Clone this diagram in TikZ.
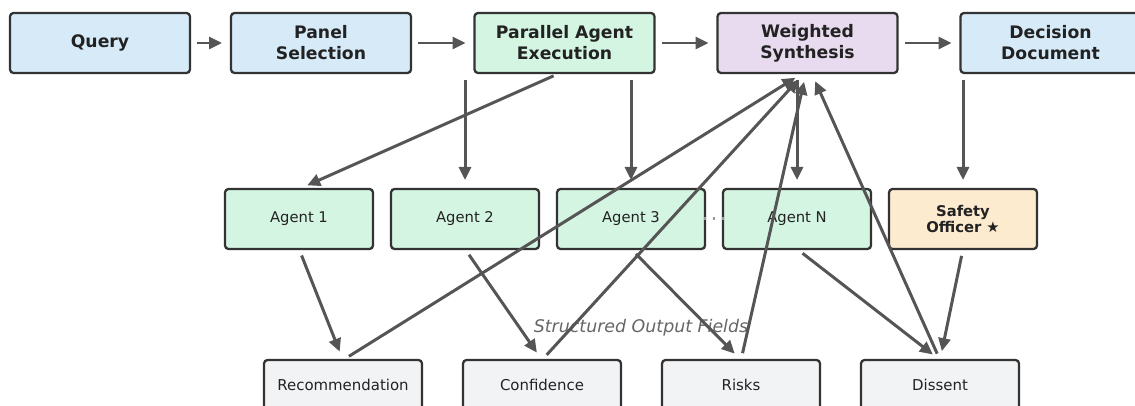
\documentclass[tikz,border=0pt]{standalone}
\usepackage{fontspec}
\setmainfont{DejaVu Sans}
\usepackage{tikz}
\usetikzlibrary{shapes,arrows,arrows.meta,positioning}
\definecolor{edgegray}{HTML}{333333}
\definecolor{arrowgray}{HTML}{555555}
\definecolor{textdark}{HTML}{222222}
\definecolor{labelgray}{HTML}{666666}
\definecolor{dotgray}{HTML}{999999}
\definecolor{stepblue}{HTML}{D6EAF8}
\definecolor{agentgreen}{HTML}{D5F5E3}
\definecolor{synthpurple}{HTML}{E8DAEF}
\definecolor{safetyorange}{HTML}{FDEBD0}
\definecolor{fieldgray}{HTML}{F2F3F4}
\tikzset{
    stagebox/.style = {rectangle, rounded corners=2pt, minimum width=3.6cm, minimum height=1.2cm, outer sep=0pt, text centered, align=center, draw=edgegray, line width=1.3pt, text=textdark, font=\fontsize{9.8}{11.9}\selectfont\bfseries},
    agentbox/.style = {rectangle, rounded corners=2pt, minimum width=2.96cm, minimum height=1.2cm, outer sep=0pt, text centered, align=center, draw=edgegray, line width=1.3pt, text=textdark, fill=agentgreen, font=\fontsize{8.4}{9.4}\selectfont},
    safetybox/.style = {agentbox, fill=safetyorange, font=\fontsize{8.4}{9.4}\selectfont\bfseries},
    fieldbox/.style = {rectangle, rounded corners=2pt, minimum width=3.16cm, minimum height=1.0cm, outer sep=0pt, text centered, draw=edgegray, line width=1.3pt, text=textdark, fill=fieldgray, font=\fontsize{8.5}{10}\selectfont},
    flow/.style = {draw=arrowgray, line width=1.7pt, -{Triangle[length=0.26cm,width=0.24cm]}, shorten <=0.14cm, shorten >=0.18cm},
    dotsline/.style = {draw=dotgray, line width=0.06cm, dash pattern=on 0.05cm off 0.13cm}
}

\begin{document}
\begin{tikzpicture}
    \useasboundingbox (0,0) rectangle (22.7,-8.12);

    % Nodes
    \node [stagebox, fill=stepblue] (query) at (2.0,-0.86) {Query};
    \node [stagebox, fill=stepblue, right=0.82cm of query] (panel) {Panel\\Selection};
    \node [stagebox, fill=agentgreen, right=1.27cm of panel] (parallel) {Parallel Agent\\Execution};
    \node [stagebox, fill=synthpurple, right=1.26cm of parallel] (synth) {Weighted\\Synthesis};
    \node [stagebox, fill=stepblue, right=1.26cm of synth] (decision) {Decision\\Document};

    \node [agentbox] (agent1) at (5.98,-4.38) {Agent 1};
    \node [agentbox, right=0.36cm of agent1] (agent2) {Agent 2};
    \node [agentbox, right=0.36cm of agent2] (agent3) {Agent 3};
    \node [agentbox, right=0.36cm of agent3] (agentN) {Agent N};
    \node [safetybox, right=0.36cm of agentN] (safety) {Safety\\Officer ★};

    \node [fieldbox] (rec) at (6.86,-7.7) {Recommendation};
    \node [fieldbox, right=0.82cm of rec] (conf) {Confidence};
    \node [fieldbox, right=0.82cm of conf] (risks) {Risks};
    \node [fieldbox, right=0.82cm of risks] (dissent) {Dissent};

    \node [text=labelgray, font=\itshape\fontsize{9.9}{12}\selectfont] (fields) at (12.82,-6.56) {Structured Output Fields};

    % Arrows
    \draw [flow] (query) -- (panel);
    \draw [flow] (panel) -- (parallel);
    \draw [flow] (parallel) -- (synth);
    \draw [flow] (synth) -- (decision);

    \draw [flow] ([xshift=-0.09cm]parallel.south) -- (agent1.north);
    \draw [flow] (parallel.south -| agent2.north) -- (agent2.north);
    \draw [flow] (parallel.south -| agent3.north) -- (agent3.north);
    \draw [flow] (synth.south -| agentN.north) -- (agentN.north);
    \draw [flow] (decision.south -| safety.north) -- (safety.north);

    \draw [flow] (agent1.south) -- (rec.north);
    \draw [flow] (agent2.south) -- (conf.north);
    \draw [flow] (agent3.south) -- (risks.north);
    \draw [flow] (agentN.south) -- (dissent.north);
    \draw [flow] (safety.south) -- (dissent.north);

    \draw [flow] (rec.north) -- ([xshift=-0.09cm]synth.south);
    \draw [flow] (conf.north) -- ([xshift=-0.06cm]synth.south);
    \draw [flow] (risks.north) -- ([xshift=-0.03cm]synth.south);
    \draw [flow] (dissent.north) -- ([xshift=0.08cm]synth.south);

    \draw [dotsline] ([xshift=-0.03cm]agent3.east) -- ([xshift=0.03cm]agentN.west);
\end{tikzpicture}
\end{document}
